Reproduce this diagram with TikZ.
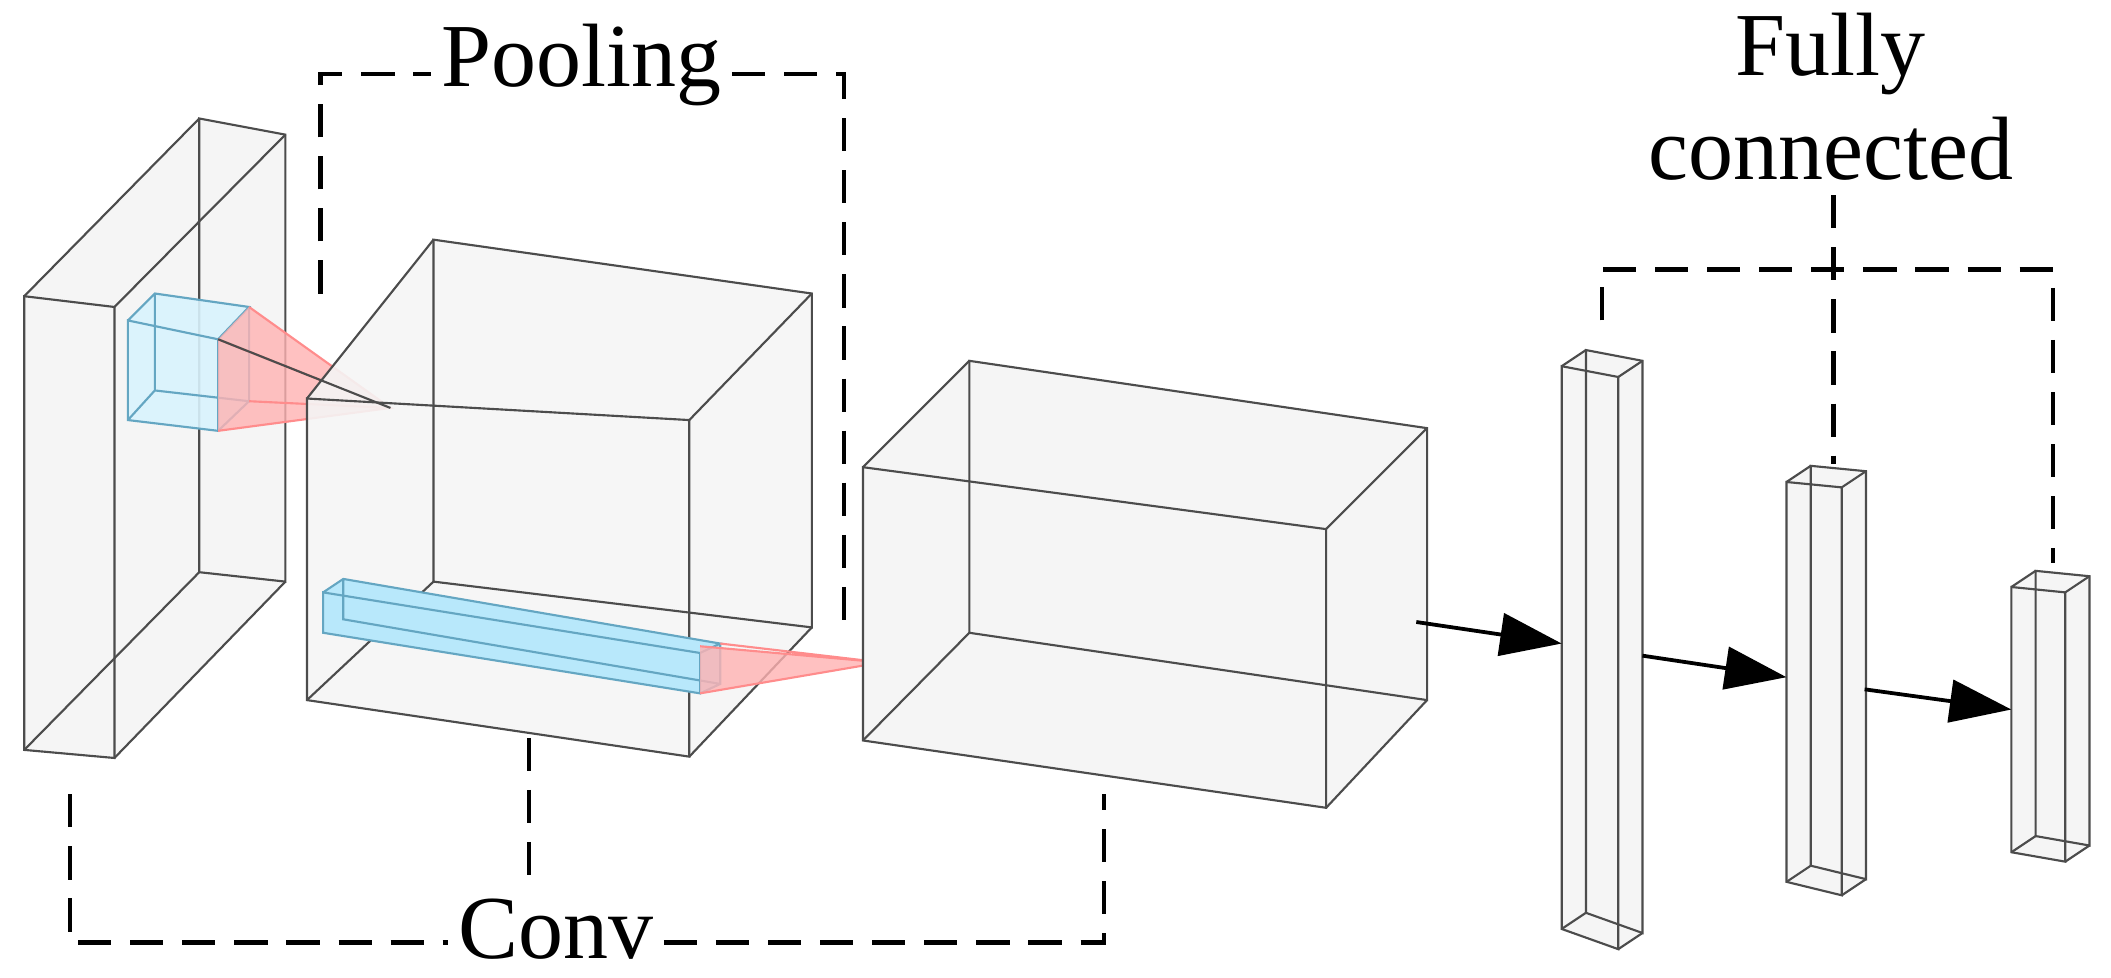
\documentclass[tikz,border=0pt]{standalone}
\usepackage{fontspec}
\setmainfont{Liberation Serif}
\usetikzlibrary{arrows.meta}
\begin{document}
\begin{tikzpicture}[x=0.01cm,y=-0.01cm,
  edge/.style={draw=black!70,line width=0.45pt},
  face/.style={fill=black!4},
  brk/.style={draw=black,line width=1pt,dash pattern=on 7pt off 4pt},
  lbl/.style={font=\fontsize{19}{22}\selectfont,inner sep=2pt},
  arr/.style={draw=black,line width=0.8pt,-{Triangle[length=13pt,width=9pt]}}]
\useasboundingbox (0,0) rectangle (1568,726);
% box 1
\fill[face] (18,220)--(148,88)--(212,100)--(212,432)--(85,563)--(18,557)--cycle;
\draw[edge] (148,88)--(212,100)--(212,432)--(148,425)--cycle;
\draw[edge] (18,220)--(85,228)--(85,563)--(18,557)--cycle;
\draw[edge] (18,220)--(148,88) (85,228)--(212,100) (85,563)--(212,432) (18,557)--(148,425);
% small blue cube + pink pyramid
\fill[cyan!15,opacity=0.9] (95,238)--(115,218)--(185,228)--(185,298)--(162,320)--(95,312)--cycle;
\draw[edge,draw=cyan!50!gray] (95,238)--(162,252)--(162,320)--(95,312)--cycle (95,238)--(115,218)--(185,228)--(162,252) (185,228)--(185,298)--(162,320) (115,218)--(115,290)--(185,298) (115,290)--(95,312);
\fill[red!30,opacity=0.8] (162,252)--(185,228)--(290,303)--(162,320)--cycle;
\draw[edge,draw=red!45] (162,252)--(290,303)--(162,320) (185,228)--(290,303) (185,298)--(290,303);
% box 2
\fill[face,opacity=0.9] (228,296)--(322,178)--(603,218)--(603,466)--(512,562)--(228,520)--cycle;
\draw[edge] (322,178)--(603,218)--(603,466)--(322,432)--cycle;
\draw[edge] (228,296)--(512,312)--(512,562)--(228,520)--cycle;
\draw[edge] (228,296)--(322,178) (512,312)--(603,218) (512,562)--(603,466) (228,520)--(322,432);
\draw[edge] (162,252)--(290,303);
% blue bar + pink triangle
\fill[cyan!28] (240,440)--(255,430)--(535,478)--(535,508)--(520,515)--(240,470)--cycle;
\draw[edge,draw=cyan!50!gray] (240,440)--(520,485)--(520,515)--(240,470)--cycle (240,440)--(255,430)--(535,478)--(520,485) (535,478)--(535,508)--(520,515) (255,430)--(255,460)--(535,508);
\fill[red!30,opacity=0.8] (520,480)--(655,492)--(520,515)--cycle;
\draw[edge,draw=red!45] (520,480)--(655,492)--(520,515) (535,478)--(655,492);
% box 3
\fill[face] (641,347)--(720,268)--(1060,318)--(1060,520)--(985,600)--(641,550)--cycle;
\draw[edge] (720,268)--(1060,318)--(1060,520)--(720,470)--cycle;
\draw[edge] (641,347)--(985,393)--(985,600)--(641,550)--cycle;
\draw[edge] (641,347)--(720,268) (985,393)--(1060,318) (985,600)--(1060,520) (641,550)--(720,470);
% FC bars
\foreach \n/\x/\ya/\yb/\yc/\yd/\w in {f1/1160/272/280/690/705/42, f2/1327/358/362/655/665/41, f3/1494/436/440/633/640/40}{
  \fill[face] (\x,\ya)--(\x+18,\ya-12)--(\x+\w+18,\yb-12)--(\x+\w+18,\yd-12)--(\x+\w,\yd)--(\x,\yc)--cycle;
  \draw[edge] (\x+18,\ya-12)--(\x+\w+18,\yb-12)--(\x+\w+18,\yd-12)--(\x+18,\yc-12)--cycle;
  \draw[edge] (\x,\ya)--(\x+\w,\yb)--(\x+\w,\yd)--(\x,\yc)--cycle;
  \draw[edge] (\x,\ya)--(\x+18,\ya-12) (\x+\w,\yb)--(\x+\w+18,\yb-12) (\x+\w,\yd)--(\x+\w+18,\yd-12) (\x,\yc)--(\x+18,\yc-12);
}
\coordinate (a1) at (1052,462); \coordinate (b1) at (1160,478);
\coordinate (a2) at (1220,487); \coordinate (b2) at (1327,503);
\coordinate (a3) at (1385,512); \coordinate (b3) at (1494,527);
\draw[arr] (a1)--(b1); \draw[arr] (a2)--(b2); \draw[arr] (a3)--(b3);
% labels
\node[lbl] (pool) at (432,48) {Pooling};
\node[lbl] (conv) at (413,690) {Conv};
\node[lbl,align=center] (fc) at (1360,72) {Fully\\connected};
\draw[brk] (238,218)--(238,55)--(pool.west|-0,55);
\draw[brk] (pool.east|-0,55)--(627,55)--(627,470);
\draw[brk] (52,590)--(52,700)--(conv.west|-0,700);
\draw[brk] (conv.east|-0,700)--(820,700)--(820,590);
\draw[brk] (393,548)--(393,663);
\draw[brk] (1190,238)--(1190,200)--(1525,200)--(1525,418);
\draw[brk] (1362,145)--(1362,345);
\end{tikzpicture}
\end{document}
